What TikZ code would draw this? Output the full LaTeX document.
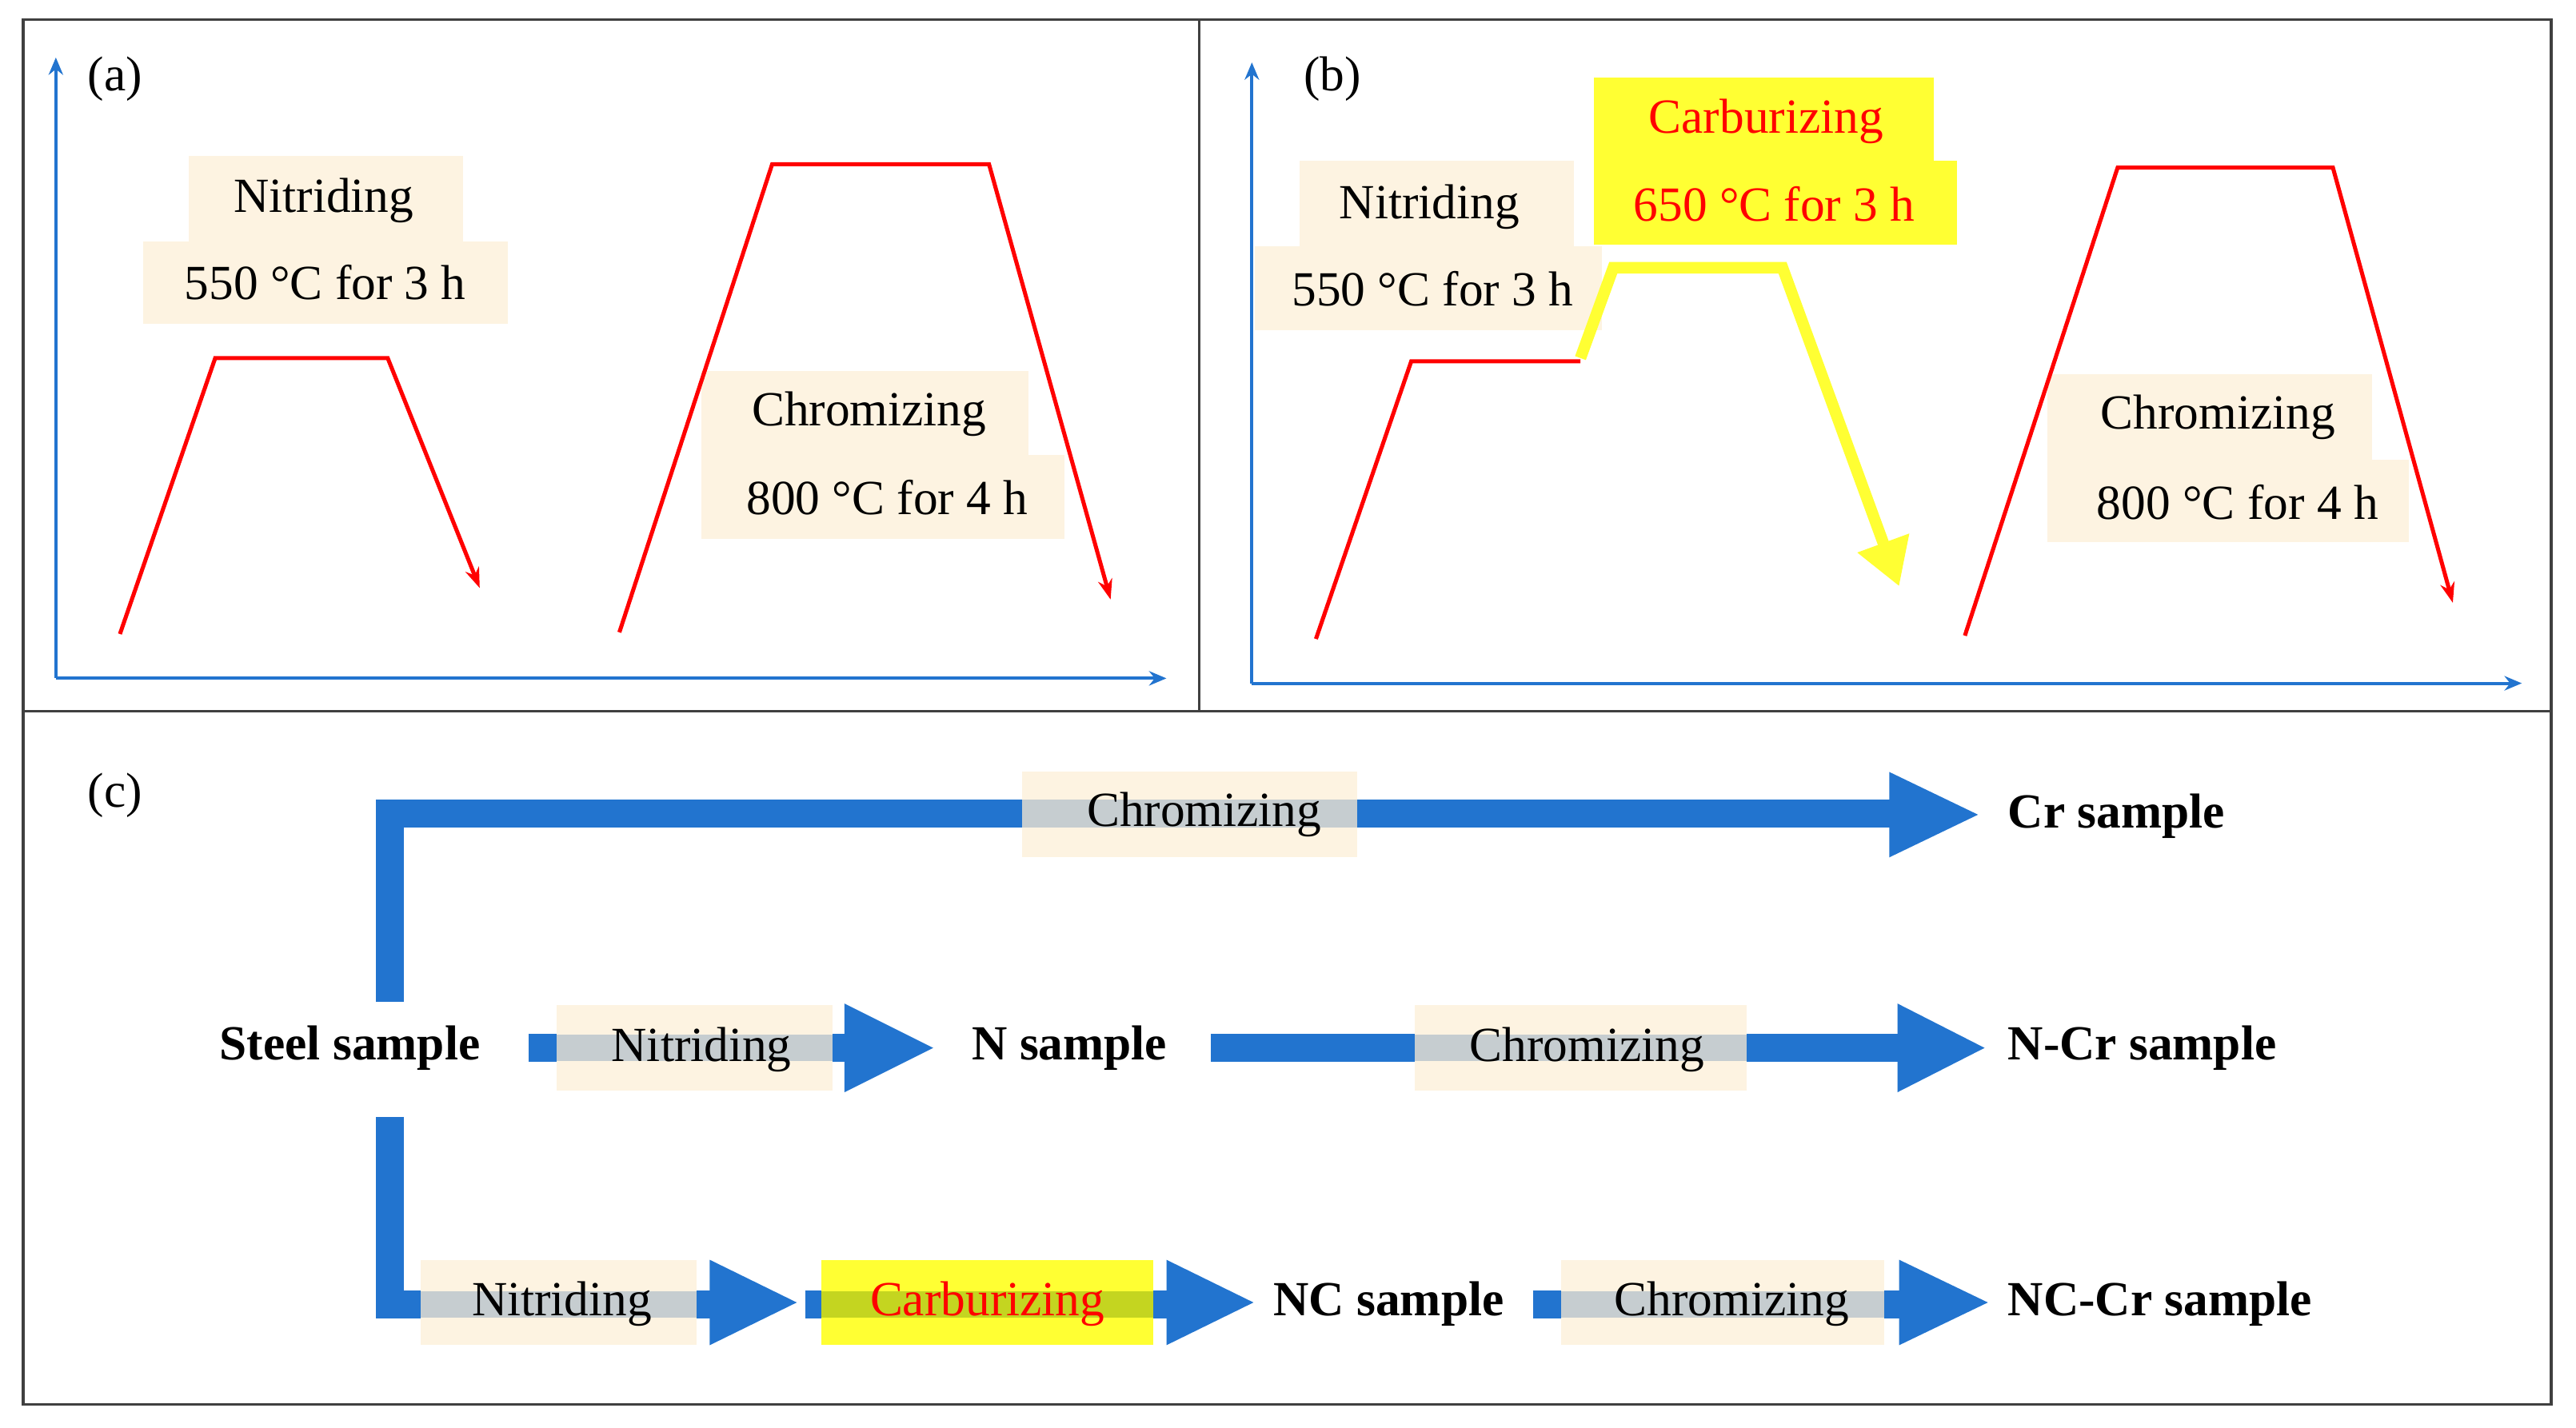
\documentclass[tikz,border=0pt]{standalone}
\usepackage{fontspec}
\setmainfont{Liberation Serif}
\usetikzlibrary{arrows.meta}
\definecolor{cream}{HTML}{FDF3E1}
\definecolor{bblue}{HTML}{2274CF}
\definecolor{band}{HTML}{C6CDD0}
\definecolor{oband}{HTML}{C4D520}
\definecolor{yel}{HTML}{FFFF33}
\begin{document}
\begin{tikzpicture}[x=0.02cm,y=-0.02cm,
  txt/.style={font=\fontsize{17}{20}\selectfont},
  btxt/.style={font=\fontsize{17}{20}\selectfont\bfseries},
  axis/.style={draw=bblue,line width=1.1pt,-{Stealth[length=6pt,width=5pt]}},
  curve/.style={draw=red,line width=1.4pt,-{Stealth[length=7pt,width=5pt]}},
  bar/.style={draw=bblue,line width=17*0.02cm},
  head/.style={fill=bblue},
  frame/.style={draw=black!75,line width=1pt}]
\useasboundingbox (0,0) rectangle (1568,869);
% frames
\draw[frame] (14,12) rectangle (1553,855);
\draw[frame] (14,433) -- (1553,433);
\draw[frame] (730,12) -- (730,433);
% ---------- panel (a)
\coordinate (ao) at (34,413);
\draw[axis] (ao) -- (34,35);
\draw[axis] (ao) -- (710,413);
\node[txt] (la) at (70,48) {(a)};
\fill[cream] (115,95) rectangle (282,147);
\fill[cream] (87,147) rectangle (309,197);
\node[txt] (an1) at (197,122) {Nitriding};
\node[txt] (an2) at (198,172) {550 °C for 3 h};
\draw[curve] (73,386) -- (131,218) -- (236,218) -- (292,358);
\fill[cream] (427,226) rectangle (626,277);
\fill[cream] (427,277) rectangle (648,328);
\draw[curve] (377,385) -- (470,100) -- (602,100) -- (676,365);
\node[txt] (ac1) at (529,252) {Chromizing};
\node[txt] (ac2) at (540,303) {800 °C for 4 h};
% ---------- panel (b)
\coordinate (bo) at (762,416);
\draw[axis] (bo) -- (762,38);
\draw[axis] (bo) -- (1535,416);
\node[txt] (lb) at (811,48) {(b)};
\fill[cream] (791,98) rectangle (958,150);
\fill[cream] (764,150) rectangle (975,201);
\node[txt] (bn1) at (870,126) {Nitriding};
\node[txt] (bn2) at (872,176) {550 °C for 3 h};
\fill[yel] (970,47) rectangle (1177,98);
\fill[yel] (970,98) rectangle (1191,149);
\node[txt,text=red] (bc1) at (1075,74) {Carburizing};
\node[txt,text=red] (bc2) at (1080,124) {650 °C for 3 h};
\draw[red,line width=1.4pt] (801,389) -- (859,220) -- (962,220);
\draw[yel,line width=7*0.02cm,line join=miter,-{Triangle[length=16pt,width=18pt]}] (962,218) -- (982,163) -- (1085,163) -- (1156,357);
\fill[cream] (1246,228) rectangle (1444,280);
\fill[cream] (1246,280) rectangle (1466,330);
\draw[curve] (1196,387) -- (1289,102) -- (1420,102) -- (1493,367);
\node[txt] (bch1) at (1350,254) {Chromizing};
\node[txt] (bch2) at (1362,306) {800 °C for 4 h};
% ---------- panel (c)
\node[txt] (lc) at (70,484) {(c)};
\node[btxt] (steel) at (213,638) {Steel sample};
\node[btxt,anchor=west] (cr) at (1216,497) {Cr sample};
\node[btxt] (ns) at (651,638) {N sample};
\node[btxt,anchor=west] (ncr) at (1216,638) {N-Cr sample};
\node[btxt,anchor=west] (nc) at (769,794) {NC sample};
\node[btxt,anchor=west] (nccr) at (1216,794) {NC-Cr sample};
% top route
\draw[bar] (237.5,610) -- (237.5,495.5) -- (1152,495.5);
\fill[head] (1150,470) -- (1204,496) -- (1150,522) -- cycle;
\fill[cream] (622,470) rectangle (826,522);
\fill[band] (622,487) rectangle (826,504);
\node[txt] (c1) at (733,496) {Chromizing};
% middle route
\draw[bar] (322,638) -- (516,638);
\fill[head] (514,611) -- (568,638) -- (514,665) -- cycle;
\fill[cream] (339,612) rectangle (507,664);
\fill[band] (339,630) rectangle (507,646);
\node[txt] (n1) at (427,639) {Nitriding};
\draw[bar] (737,638) -- (1157,638);
\fill[head] (1155,611) -- (1208,638) -- (1155,665) -- cycle;
\fill[cream] (861,612) rectangle (1063,664);
\fill[band] (861,630) rectangle (1063,646);
\node[txt] (c2) at (966,639) {Chromizing};
% bottom route
\draw[bar] (237.5,680) -- (237.5,794) -- (434,794);
\fill[head] (432,767) -- (485,793) -- (432,819) -- cycle;
\fill[cream] (256,767) rectangle (424,819);
\fill[band] (256,786) rectangle (424,802);
\node[txt] (n2) at (342,794) {Nitriding};
\draw[bar] (490,794) -- (712,794);
\fill[head] (710,767) -- (763,793) -- (710,819) -- cycle;
\fill[yel] (500,767) rectangle (702,819);
\fill[oband] (500,786) rectangle (702,802);
\node[txt,text=red] (k1) at (601,794) {Carburizing};
\draw[bar] (933,794) -- (1158,794);
\fill[head] (1156,767) -- (1210,793) -- (1156,819) -- cycle;
\fill[cream] (950,767) rectangle (1147,819);
\fill[band] (950,786) rectangle (1147,802);
\node[txt] (c3) at (1054,794) {Chromizing};
\end{tikzpicture}
\end{document}
